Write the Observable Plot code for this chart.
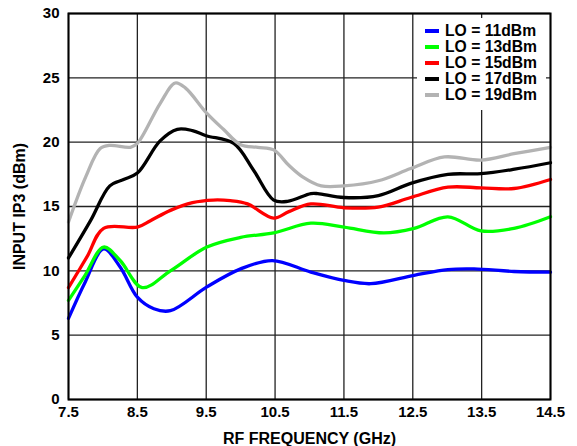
<!DOCTYPE html>
<html>
<head>
<meta charset="utf-8">
<script src="https://cdn.jsdelivr.net/npm/d3@7"></script>
<script src="https://cdn.jsdelivr.net/npm/@observablehq/plot@0.6"></script>
<style>
  html, body { margin: 0; padding: 0; background: #fff; }
  #wrap { position: relative; width: 577px; height: 446px; font-family: "Liberation Sans", Arial, sans-serif; }
  #legend { position: absolute; left: 417px; top: 18px; width: 129px; height: 92px; background: #fff; }
  .row { position: absolute; left: 8px; height: 16px; display: flex; align-items: center; font-weight: bold; font-size: 15.7px; color: #000; white-space: nowrap; }
  .sw { width: 14px; height: 4px; margin-right: 6px; }
  g[aria-label="x-axis label"] text, g[aria-label="y-axis label"] text { font-size: 16px; }
</style>
</head>
<body>
<div id="wrap"><div id="legend"></div></div>
<script>
const seriesNames = ["LO = 11dBm", "LO = 13dBm", "LO = 15dBm", "LO = 17dBm", "LO = 19dBm"];
const seriesColors = ["#0000ff", "#00ff00", "#ff0000", "#000000", "#b3b3b3"];
const xTicks = [7.5, 8.5, 9.5, 10.5, 11.5, 12.5, 13.5, 14.5];
const yTicks = [0, 5, 10, 15, 20, 25, 30];

const lo11 = [[7.5,6.3],[7.74,9.1],[8.01,11.7],[8.25,10.3],[8.5,7.95],[8.74,7.05],[8.98,6.9],[9.51,8.75],[10.0,10.15],[10.46,10.8],[11.02,9.9],[11.5,9.25],[11.89,9.0],[12.52,9.65],[13.01,10.1],[13.39,10.15],[13.97,9.95],[14.5,9.9]];
const lo13 = [[7.5,7.7],[7.74,9.65],[8.01,11.85],[8.25,10.8],[8.57,8.7],[8.98,10.0],[9.51,11.85],[10.0,12.6],[10.48,12.95],[11.02,13.7],[11.5,13.4],[12.08,12.95],[12.52,13.3],[13.01,14.2],[13.49,13.1],[13.97,13.3],[14.5,14.2]];
const lo15 = [[7.5,8.7],[7.77,11.1],[8.01,13.3],[8.5,13.4],[8.69,13.9],[8.98,14.7],[9.3,15.3],[9.6,15.5],[9.85,15.45],[10.1,15.2],[10.48,14.1],[10.7,14.6],[11.02,15.2],[11.5,14.9],[12.0,14.95],[12.47,15.7],[13.01,16.5],[13.49,16.45],[13.97,16.4],[14.5,17.1]];
const lo17 = [[7.5,11.0],[7.82,13.9],[8.1,16.6],[8.3,17.1],[8.5,17.6],[8.83,20.1],[9.08,21.0],[9.3,20.9],[9.5,20.5],[9.9,19.9],[10.19,17.8],[10.48,15.5],[10.68,15.4],[11.02,16.0],[11.12,16.0],[11.5,15.7],[12.0,15.85],[12.47,16.8],[13.01,17.5],[13.49,17.55],[13.98,17.9],[14.5,18.4]];
const lo19 = [[7.5,13.8],[7.75,17.3],[7.96,19.5],[8.1,19.75],[8.4,19.6],[8.5,19.9],[8.83,23.0],[9.05,24.6],[9.2,24.2],[9.5,22.3],[9.75,21.0],[10.0,19.8],[10.25,19.6],[10.48,19.4],[10.7,18.2],[10.9,17.3],[11.17,16.6],[11.5,16.6],[12.0,17.0],[12.47,17.95],[12.96,18.85],[13.49,18.6],[13.97,19.1],[14.5,19.6]];

const allSeries = [lo11, lo13, lo15, lo17, lo19];
const data = allSeries.flatMap((s, i) => s.map(([f, v]) => ({f, v, s: seriesNames[i]})));

const chart = Plot.plot({
  width: 577,
  height: 446,
  marginLeft: 68,
  marginRight: 27,
  marginTop: 13,
  marginBottom: 47,
  style: {fontFamily: "'Liberation Sans', Arial, sans-serif", fontSize: "15px", fontWeight: "bold", color: "#000", background: "#fff"},
  x: {domain: [7.5, 14.5]},
  y: {domain: [0, 30]},
  color: {domain: seriesNames, range: seriesColors},
  marks: [
    Plot.gridX(xTicks, {stroke: "#222", strokeOpacity: 1, strokeWidth: 1.3}),
    Plot.gridY(yTicks, {stroke: "#222", strokeOpacity: 1, strokeWidth: 1.3}),
    Plot.line(data, {x: "f", y: "v", z: "s", stroke: "s", strokeWidth: 3.3, curve: "catmull-rom"}),
    Plot.frame({stroke: "#000", strokeWidth: 2}),
    Plot.axisX(xTicks, {tickSize: 0, tickPadding: 7, tickFormat: d => d.toFixed(1), label: "RF FREQUENCY (GHz)", labelAnchor: "center", labelOffset: 44, labelArrow: "none"}),
    Plot.axisY(yTicks, {tickSize: 0, tickPadding: 9, label: "INPUT IP3 (dBm)", labelAnchor: "center", labelOffset: 55, labelArrow: "none"})
  ]
});
document.getElementById("wrap").prepend(chart);

const legend = document.getElementById("legend");
seriesNames.forEach((n, i) => {
  const row = document.createElement("div");
  row.className = "row";
  row.style.top = (5 + i * 16) + "px";
  const sw = document.createElement("div");
  sw.className = "sw";
  sw.style.background = seriesColors[i];
  const t = document.createElement("span");
  t.textContent = n;
  row.append(sw, t);
  legend.append(row);
});
</script>
</body>
</html>
